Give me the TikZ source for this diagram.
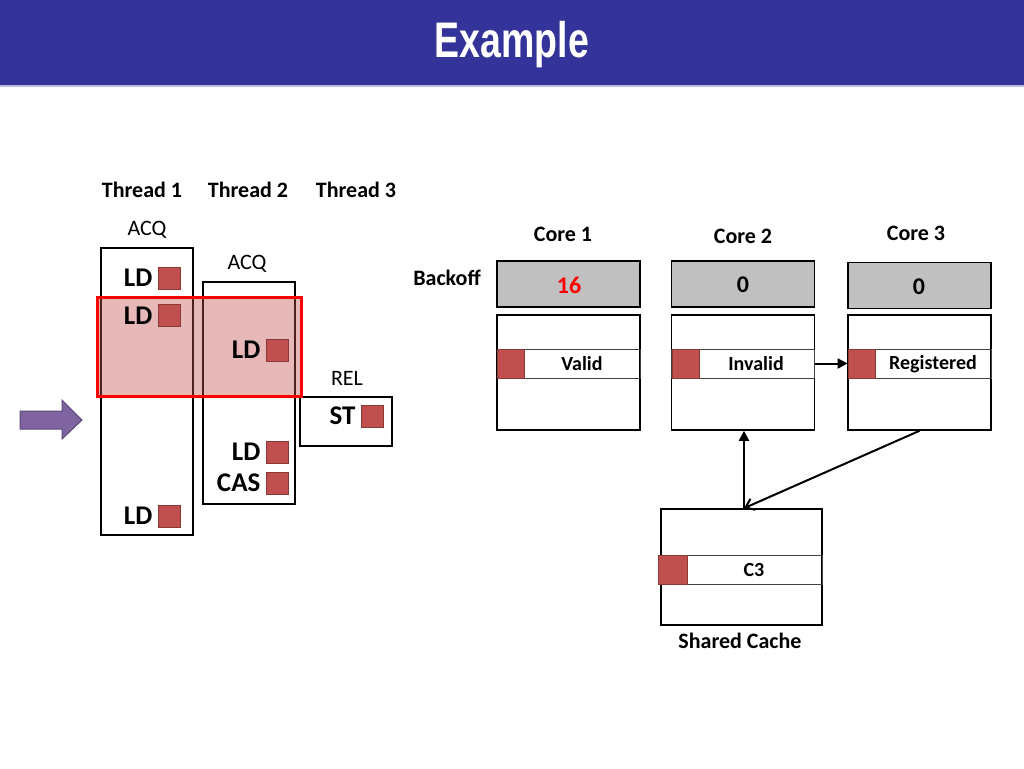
\documentclass[tikz,border=0pt]{standalone}
\usepackage{fontspec}
\setmainfont{Carlito}
\newfontfamily\titlefont{Liberation Sans}
\usepackage{tikz}
\usetikzlibrary{arrows.meta, positioning, calc}
\definecolor{bandblue}{HTML}{333399}
\definecolor{bandedge}{HTML}{B8B8E0}
\definecolor{tagred}{HTML}{C0504D}
\definecolor{tagedge}{HTML}{8C3836}
\definecolor{backgray}{HTML}{C0C0C0}
\definecolor{arrowpurple}{HTML}{8064A2}
\definecolor{arrowedge}{HTML}{5C4776}
\tikzset{
  hdr/.style={font=\bfseries\fontsize{22}{24}\selectfont, inner sep=0pt},
  kind/.style={font=\fontsize{22}{24}\selectfont, inner sep=0pt},
  op/.style={font=\bfseries\fontsize{27}{30}\selectfont, inner sep=0pt},
  threadbox/.style={draw, line width=2.2pt, minimum width=92pt, inner sep=0pt},
  tagsq/.style={fill=tagred, draw=tagedge, line width=0.8pt, minimum size=22pt, inner sep=0pt},
  linetag/.style={tagsq, minimum width=27pt, minimum height=29pt},
  backoffbox/.style={draw, fill=backgray, line width=1.6pt, minimum width=143pt, minimum height=46pt, inner sep=0pt},
  cachebox/.style={draw, line width=1.6pt, minimum width=143pt, minimum height=115pt, inner sep=0pt},
  cacheline/.style={draw=black!75, line width=0.7pt, minimum width=143pt, minimum height=29pt, inner sep=0pt},
  linetxt/.style={font=\bfseries\fontsize{20}{22}\selectfont, inner sep=0pt},
  arr/.style={line width=2pt, -{Triangle[length=10pt,width=10pt]}},
}
\begin{document}
\begin{tikzpicture}[x=1pt, y=-1pt]
    \useasboundingbox (0,0) rectangle (1024,768);
    % title band
    \fill[bandblue] (0,0) rectangle (1024,85);
    \draw[bandedge, line width=1.2pt] (0,86) -- (1024,86);
    \node[text=white, font=\titlefont\bfseries\fontsize{50}{52}\selectfont, inner sep=0pt] (title) at (512,45) {\scalebox{0.75}[1]{Example}};

    % threads
    \node[hdr] (th1) at (142,190) {Thread 1};
    \node[hdr] (th2) at (248,190) {Thread 2};
    \node[hdr] (th3) at (356,190) {Thread 3};
    \node[kind] (acq1) at (147,230) {ACQ};
    \node[kind] (acq2) at (247,264) {ACQ};
    \node[kind] (rel) at (347,378) {REL};
    \node[threadbox, minimum height=287pt] (t1box) at (147,391.5) {};
    \node[threadbox, minimum height=222pt] (t2box) at (249,393) {};
    \node[threadbox, minimum height=49pt] (t3box) at (346,421.5) {};

    % current window
    \node[draw=red, line width=3pt, fill=tagred, fill opacity=0.4, minimum width=204pt, minimum height=99pt, inner sep=0pt] (window) at (199,346.5) {};

    % memory ops
    \node[tagsq] (sq1a) at (169,278) {};
    \node[tagsq] (sq1b) at (169,315.5) {};
    \node[tagsq] (sq1c) at (169,516) {};
    \node[tagsq] (sq2a) at (277,350) {};
    \node[tagsq] (sq2b) at (277,452) {};
    \node[tagsq] (sq2c) at (277,483) {};
    \node[tagsq] (sq3a) at (372,416) {};
    \node[op, left=5pt of sq1a] (op1a) {LD};
    \node[op, left=5pt of sq1b] (op1b) {LD};
    \node[op, left=5pt of sq1c] (op1c) {LD};
    \node[op, left=5pt of sq2a] (op2a) {LD};
    \node[op, left=5pt of sq2b] (op2b) {LD};
    \node[op, left=5pt of sq2c] (op2c) {CAS};
    \node[op, left=5pt of sq3a] (op3a) {ST};

    % purple pointer
    \filldraw[fill=arrowpurple, draw=arrowedge, line width=1pt]
      (20,411) -- (62,411) -- (62,400) -- (82,420) -- (62,439) -- (62,429) -- (20,429) -- cycle;

    % cores
    \node[hdr] (core1) at (563,234) {Core 1};
    \node[hdr] (core2) at (743,236) {Core 2};
    \node[hdr] (core3) at (916,233) {Core 3};
    \node[hdr] (backoff) at (447,278) {Backoff};
    \node[backoffbox] (bo1) at (568.5,284) {};
    \node[backoffbox] (bo2) at (743,284) {};
    \node[backoffbox] (bo3) at (919.5,285.5) {};
    \node[hdr, font=\bfseries\fontsize{24}{26}\selectfont, text=red] (bv1) at (569,285) {16};
    \node[hdr, font=\bfseries\fontsize{24}{26}\selectfont] (bv2) at (743,285) {0};
    \node[hdr, font=\bfseries\fontsize{24}{26}\selectfont] (bv3) at (919,287) {0};

    \node[cachebox] (cache1) at (568.5,372.5) {};
    \node[cachebox] (cache2) at (743,372.5) {};
    \node[cachebox] (cache3) at (919.5,372.5) {};
    \node[cacheline] (line1) at (568.5,363.5) {};
    \node[cacheline] (line2) at (743,363.5) {};
    \node[cacheline] (line3) at (919.5,363.5) {};
    \node[linetag] (tag1) at (510.5,363.5) {};
    \node[linetag] (tag2) at (685.5,363.5) {};
    \node[linetag] (tag3) at (861.5,363.5) {};
    \node[linetxt] (st1) at (582,364) {Valid};
    \node[linetxt] (st2) at (756,364) {Invalid};
    \node[linetxt] (st3) at (933,364) {Registered};

    % shared cache
    \node[cachebox, minimum width=161pt, minimum height=116pt] (shared) at (741.5,567) {};
    \node[cacheline, minimum width=161pt] (lineS) at (741.5,569.5) {};
    \node[linetag, minimum width=29pt] (tagS) at (672.5,569.5) {};
    \node[linetxt] (stS) at (754,570) {C3};
    \node[hdr] (sharedlbl) at (740,641) {Shared Cache};

    % coherence traffic
    \draw[arr] (line2.east) -- (tag3.west);
    \draw[arr] ([xshift=2.5pt]shared.north) -- ([xshift=2.5pt]shared.north |- cache2.south);
    \draw[line width=2pt, -{Straight Barb[length=8pt,width=12pt]}] (cache3.south) -- ([xshift=2.5pt]shared.north);
  \end{tikzpicture}
\end{document}
